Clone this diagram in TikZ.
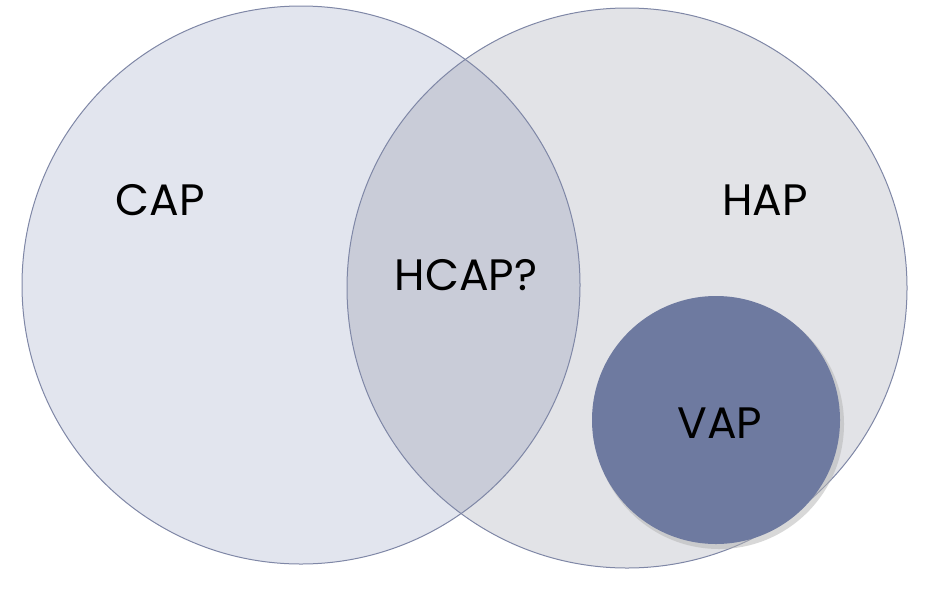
\documentclass[tikz,border=0pt]{standalone}
\usepackage{fontspec}
\setmainfont{Poppins}
\definecolor{lfill}{HTML}{E2E5EE}
\definecolor{rfill}{HTML}{E2E3E7}
\definecolor{mfill}{HTML}{C9CCD8}
\definecolor{vfill}{HTML}{6E7AA0}
\definecolor{edge}{HTML}{7F87A6}
\tikzset{lbl/.style={font=\fontsize{44}{50}\selectfont, text=black}}
\begin{document}
\begin{tikzpicture}[x=1pt,y=-1pt]
\useasboundingbox (0,0) rectangle (952,592);
\fill[rfill] (627,288) circle (280);
\fill[lfill] (301,285) circle (279);
\begin{scope}
\clip (301,285) circle (279);
\fill[mfill] (627,288) circle (280);
\end{scope}
\draw[edge, line width=1pt] (627,288) circle (280);
\draw[edge, line width=1pt] (301,285) circle (279);
\fill[black!30, opacity=0.5] (719,424) circle (125);
\fill[vfill] (716,420) circle (124);
\node[lbl] (cap) at (160,200) {CAP};
\node[lbl] (hap) at (765,200) {HAP};
\node[lbl] (hcap) at (466,275) {HCAP?};
\node[lbl] (vap) at (720,423) {VAP};
\end{tikzpicture}
\end{document}
